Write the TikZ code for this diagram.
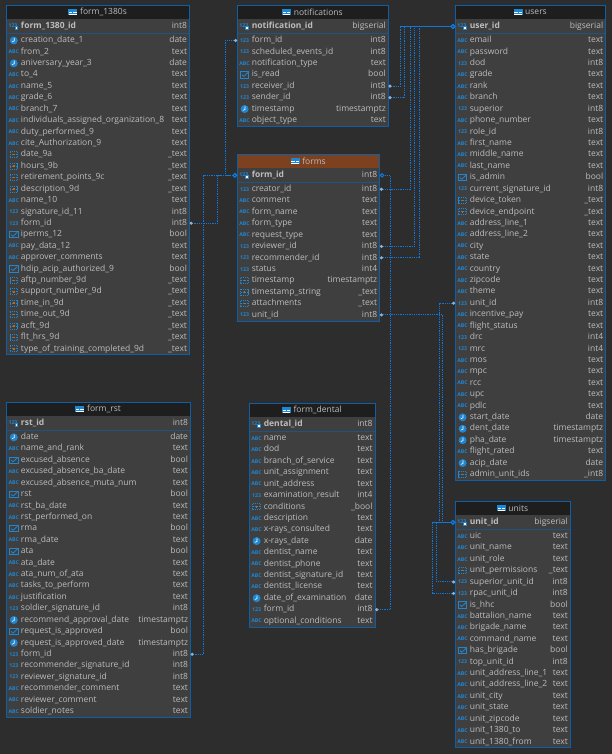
\documentclass[tikz,border=0pt]{standalone}
\usepackage{fontspec}
\setmainfont{Open Sans}
\usepackage{xcolor}
\usetikzlibrary{arrows.meta}
\definecolor{canvas}{HTML}{2D2D2D}
\definecolor{panel}{HTML}{3F3F3F}
\definecolor{headdark}{HTML}{1E1E1E}
\definecolor{headbrown}{HTML}{7D4120}
\definecolor{frameblue}{HTML}{0E5FA6}
\definecolor{linkblue}{HTML}{0F78DC}
\definecolor{iconblue}{HTML}{1F86D2}
\definecolor{rowgrey}{HTML}{BDBDBD}
\definecolor{dotgrey}{HTML}{8FB2D2}
\catcode`\_=12
\tikzset{
  tabframe/.style={draw=frameblue, line width=0.8pt},
  tabtitle/.style={inner sep=0pt, text=rowgrey, font=\fontsize{8.5}{10}\selectfont},
  rowtext/.style={inner xsep=2.5pt, inner ysep=0pt, text=rowgrey, align=left, text height=6.2pt, text depth=1.8pt, font=\fontsize{8.5}{10}\selectfont},
  icontext/.style={inner sep=0pt, text=iconblue, font=\fontsize{5.2}{6}\selectfont\bfseries},
  fkline/.style={linkblue, line width=1pt, dash pattern=on 1.25pt off 1pt, {Circle[length=3pt,fill=dotgrey,color=dotgrey]}-{Circle[open,length=4.4pt,fill=canvas,color=linkblue]}},
  trunk/.style={linkblue, line width=1pt},
  iconabc/.pic={\node[icontext] (t) {ABC};},
  iconnum/.pic={\node[icontext] (t) {123};},
  iconpk/.pic={
    \node[icontext] (t) at (-0.8,-0.8) {123};
    \fill[iconblue] (0.8,-0.2) rectangle (4.4,3.6);
    \fill[white] (1.8,0.6) rectangle (3.4,2.4);
  },
  icondate/.pic={
    \fill[iconblue] (0,0) circle (4);
    \draw[white, line width=0.6pt] (0.4,-2.6) -- (0.4,0.4) -- (-1.8,1.4);
  },
  iconbool/.pic={
    \draw[iconblue, line width=0.8pt] (-4.2,-3.2) rectangle (4.2,3.2);
    \draw[iconblue, line width=0.8pt] (-2.6,0) -- (-0.8,1.7) -- (3.6,-2.4);
  },
  iconarr/.pic={
    \draw[iconblue, line width=0.8pt, dash pattern=on 1.3pt off 0.7pt] (-3.8,-3) rectangle (3.8,3);
    \draw[iconblue, line width=0.8pt, dash pattern=on 1.3pt off 0.7pt] (-3.8,0) -- (3.8,0);
    \fill[orange!80!black] (-0.8,-0.8) rectangle (0.8,0.8);
  },
  iconhead/.pic={
    \fill[iconblue] (-4.5,-3) rectangle (4.5,3);
    \fill[white] (-3.6,-0.5) rectangle (-0.5,0);
    \fill[white] (0.5,-0.5) rectangle (3.6,0);
    \fill[white] (-3.6,1.4) rectangle (3.6,1.9);
  }
}
\newcommand{\dbtable}[9]{
  \pgfmathsetmacro{\tabmid}{(#4+#5)/2}
  \pgfmathsetmacro{\rowwd}{#5-#4-5}
  \foreach \ricon/\rname/\rtype [count=\i] in {#9} {\xdef\tabrows{\i}}
  \pgfmathsetmacro{\tabbot}{#6+35+(\tabrows-1)*11.42+6}
  \fill[panel] (#4,#6) rectangle (#5,\tabbot);
  \fill[#3] (#4,#6) rectangle (#5,#6+13.7);
  \draw[frameblue!60!panel, line width=0.4pt] (#4,#6+27.7) -- (#5,#6+27.7);
  \node[tabtitle] (#1-title) at (\tabmid+5.5,#6+6.9) {#2};
  \pic at ([xshift=-7pt]#1-title.west) {iconhead};
  \node[rowtext, text width=\rowwd pt] (#1-pk) at (\tabmid,#6+21) {\hspace*{12pt}\textbf{#7}\hfill #8};
  \pic at ([xshift=7.5pt]#1-pk.west) {iconpk};
  \foreach \ricon/\rname/\rtype [count=\i] in {#9} {
    \pgfmathsetmacro{\rowy}{#6+35+(\i-1)*11.42}
    \node[rowtext, text width=\rowwd pt] (#1-\i) at (\tabmid,\rowy) {\hspace*{12pt}\rname\hfill \rtype};
    \pic at ([xshift=7.5pt]#1-\i.west) {icon\ricon};
  }
  \draw[tabframe] (#4,#6) rectangle (#5,\tabbot);
}
\begin{document}
\begin{tikzpicture}[x=1pt, y=-1pt]
  \useasboundingbox (0,0) rectangle (612,754);
  \fill[canvas] (0,0) rectangle (612,754);
  \dbtable{form1380}{form_1380s}{headdark}{6.5}{189.5}{5.5}{form_1380_id}{int8}{
    date/creation_date_1/date, abc/from_2/text, date/aniversary_year_3/date, abc/to_4/text,
    abc/name_5/text, abc/grade_6/text, abc/branch_7/text, abc/individuals_assigned_organization_8/text,
    abc/duty_performed_9/text, abc/cite_Authorization_9/text, arr/date_9a/_text, arr/hours_9b/_text,
    arr/retirement_points_9c/_text, arr/description_9d/_text, abc/name_10/text, num/signature_id_11/int8,
    num/form_id/int8, bool/iperms_12/bool, abc/pay_data_12/text, abc/approver_comments/text,
    bool/hdip_acip_authorized_9/bool, arr/aftp_number_9d/_text, arr/support_number_9d/_text,
    arr/time_in_9d/_text, arr/time_out_9d/_text, arr/acft_9d/_text, arr/flt_hrs_9d/_text,
    arr/type_of_training_completed_9d/_text}
  \dbtable{notifications}{notifications}{headdark}{237.3}{388.3}{5.5}{notification_id}{bigserial}{
    num/form_id/int8, num/scheduled_events_id/int8, abc/notification_type/text, bool/is_read/bool,
    num/receiver_id/int8, num/sender_id/int8, date/timestamp/timestamptz, abc/object_type/text}
  \dbtable{forms}{forms}{headbrown}{237.3}{379.7}{154.3}{form_id}{int8}{
    num/creator_id/int8, abc/comment/text, abc/form_name/text, abc/form_type/text, abc/request_type/text,
    num/reviewer_id/int8, num/recommender_id/int8, num/status/int4, arr/timestamp/timestamptz,
    arr/timestamp_string/_text, arr/attachments/_text, num/unit_id/int8}
  \dbtable{users}{users}{headdark}{455.3}{605.7}{5.5}{user_id}{bigserial}{
    abc/email/text, abc/password/text, num/dod/int8, abc/grade/text, abc/rank/text, abc/branch/text,
    num/superior/int8, abc/phone_number/text, num/role_id/int8, abc/first_name/text, abc/middle_name/text,
    abc/last_name/text, bool/is_admin/bool, num/current_signature_id/int8, arr/device_token/_text,
    arr/device_endpoint/_text, abc/address_line_1/text, abc/address_line_2/text, abc/city/text,
    abc/state/text, abc/country/text, abc/zipcode/text, abc/theme/text, num/unit_id/int8,
    abc/incentive_pay/text, abc/flight_status/text, num/drc/int4, num/mrc/int4, abc/mos/text, abc/mpc/text,
    abc/rcc/text, abc/upc/text, abc/pdlc/text, date/start_date/date, date/dent_date/timestamptz,
    date/pha_date/timestamptz, abc/flight_rated/text, date/acip_date/date, arr/admin_unit_ids/_int8}
  \dbtable{units}{units}{headdark}{455.3}{570.3}{501.3}{unit_id}{bigserial}{
    abc/uic/text, abc/unit_name/text, abc/unit_role/text, arr/unit_permissions/_text,
    num/superior_unit_id/int8, num/rpac_unit_id/int8, bool/is_hhc/bool, abc/battalion_name/text,
    abc/brigade_name/text, abc/command_name/text, bool/has_brigade/bool, num/top_unit_id/int8,
    abc/unit_address_line_1/text, abc/unit_address_line_2/text, abc/unit_city/text, abc/unit_state/text,
    abc/unit_zipcode/text, abc/unit_1380_to/text, abc/unit_1380_from/text}
  \dbtable{rst}{form_rst}{headdark}{6.5}{190.5}{402.3}{rst_id}{int8}{
    date/date/date, abc/name_and_rank/text, bool/excused_absence/bool, abc/excused_absence_ba_date/text,
    abc/excused_absence_muta_num/text, bool/rst/bool, abc/rst_ba_date/text, abc/rst_performed_on/text,
    bool/rma/bool, abc/rma_date/text, bool/ata/bool, abc/ata_date/text, abc/ata_num_of_ata/text,
    abc/tasks_to_perform/text, abc/justification/text, num/soldier_signature_id/int8,
    date/recommend_approval_date/timestamptz, bool/request_is_approved/bool,
    date/request_is_approved_date/timestamptz, num/form_id/int8, num/recommender_signature_id/int8,
    num/reviewer_signature_id/int8, abc/recommender_comment/text, abc/reviewer_comment/text,
    abc/soldier_notes/text}
  \dbtable{dental}{form_dental}{headdark}{249.3}{375}{403.3}{dental_id}{int8}{
    abc/name/text, abc/dod/text, abc/branch_of_service/text, abc/unit_assignment/text, abc/unit_address/text,
    num/examination_result/int4, arr/conditions/_bool, abc/description/text, abc/x-rays_consulted/text,
    date/x-rays_date/date, abc/dentist_name/text, abc/dentist_phone/text, abc/dentist_signature_id/text,
    abc/dentist_license/text, date/date_of_examination/date, num/form_id/int8, abc/optional_conditions/text}
  \draw[trunk] (users-pk.west) -- ++(-54.8,0);
  \draw[trunk] (units-pk.west) -- ++(-22.8,0);
  \draw[fkline] (notifications-5.east) -- ++(12.2,0) |- (users-pk.west);
  \draw[fkline] (notifications-6.east) -- ++(16.2,0) |- (users-pk.west);
  \draw[fkline] (forms-1.east) -- ++(30.8,0) |- (users-pk.west);
  \draw[fkline] (forms-6.east) -- ++(34.8,0) |- (users-pk.west);
  \draw[fkline] (forms-7.east) -- ++(39.8,0) |- (users-pk.west);
  \draw[fkline] (form1380-17.east) -- ++(28,0) |- (forms-pk.west);
  \draw[fkline] (rst-20.east) -- ++(13,0) |- (forms-pk.west);
  \draw[fkline] (notifications-1.west) -- ++(-11.8,0) |- (forms-pk.west);
  \draw[fkline] (dental-16.east) -- ++(15.5,0) |- (forms-pk.east);
  \draw[fkline] (users-24.west) -- ++(-15.8,0) |- (units-pk.west);
  \draw[fkline] (forms-12.east) -- ++(62.8,0) |- (units-pk.west);
  \draw[fkline] (units-5.west) -- ++(-18.8,0) |- (units-pk.west);
  \draw[fkline] (units-6.west) -- ++(-22.8,0) |- (units-pk.west);
\end{tikzpicture}
\end{document}
